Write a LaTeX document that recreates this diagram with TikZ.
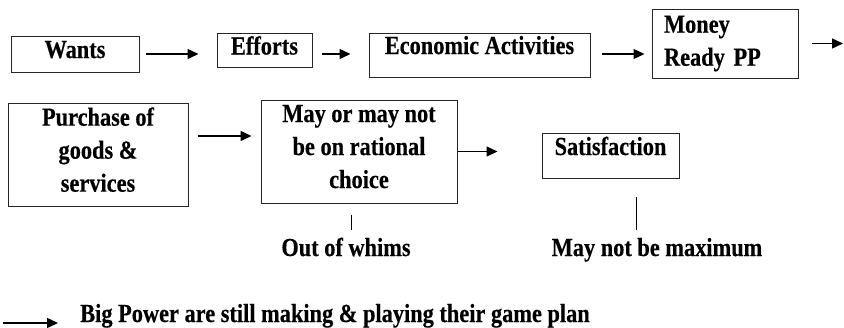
\documentclass[tikz,border=0pt]{standalone}
\usepackage{fontspec}
\newfontfamily\boxfont[FakeStretch=0.86,FakeBold=0.4]{Liberation Serif}
\usetikzlibrary{arrows.meta}
\tikzset{
  box/.style={draw=black!85, line width=1pt, inner sep=0pt, align=center,
    font=\boxfont\bfseries\fontsize{26}{33}\selectfont},
  lbl/.style={inner sep=0pt, text height=17pt, text depth=6pt,
    font=\boxfont\bfseries\fontsize{26}{33}\selectfont},
  arr/.style={line width=1.3pt, -{Triangle[length=11pt,width=10pt]}},
  tick/.style={line width=0.9pt}
}
\newcommand{\lowdown}{\rule[-10pt]{0pt}{0pt}}
\begin{document}
\begin{tikzpicture}[x=1pt,y=-1pt]
        \useasboundingbox (0,0) rectangle (844,327);
        %Hang tren
            \node[box, minimum width=128pt, minimum height=36pt, text height=17pt, text depth=9pt] (wants) at (75,54) {Wants};
            \node[box, minimum width=95pt, minimum height=34pt, text height=17pt, text depth=8pt] (efforts) at (264.5,50) {Efforts};
            \node[box, minimum width=221pt, minimum height=44pt, text height=17pt, text depth=19pt] (econ) at (479.5,55) {Economic Activities};
            \node[box, align=left, text width=122pt, inner xsep=12pt, minimum height=69pt] (money) at (725,43.5) {Money\\Ready PP};
            \coordinate (more) at (843,43.5);
        \draw[arr, shorten <=6pt, shorten >=18pt] (wants.east) -- (efforts.west |- wants.east);
        \draw[arr, shorten <=9pt, shorten >=18pt] (efforts.east |- wants.east) -- (econ.west |- wants.east);
        \draw[arr, shorten <=11pt, shorten >=7pt] (econ.east |- wants.east) -- (money.west |- wants.east);
        \draw[arr, shorten <=13pt] (money.east) -- (more);
        %Hang duoi
            \node[box, minimum width=180pt, minimum height=103pt] (purchase) at (98,154.5) {Purchase of\\goods \&\\services\lowdown};
            \node[box, minimum width=196pt, minimum height=103pt] (may) at (359,151.5) {May or may not\\be on rational\\choice\lowdown};
            \node[box, minimum width=137pt, minimum height=45pt, text height=17pt, text depth=18pt] (sat) at (610.5,155.5) {Satisfaction};
        \draw[arr, shorten <=9pt, shorten >=9pt] ([yshift=18.5pt]purchase.east) -- ([yshift=15.5pt]may.west);
        \draw[arr, shorten >=44pt] (may.east) -- (sat.west |- may.east);
        %Ghi chu
            \node[lbl] (whims) at (346,250.5) {Out of whims};
            \node[lbl] (maxi) at (657,250.5) {May not be maximum};
            \coordinate (wtop) at ([xshift=5pt]whims.north);
            \coordinate (mtop) at ([xshift=-21pt]maxi.north);
        \draw[tick, shorten <=11pt, shorten >=9pt] (may.south -| wtop) -- (wtop);
        \draw[tick, shorten <=18pt, shorten >=9pt] (sat.south -| mtop) -- (mtop);
        %Dong cuoi
            \node[lbl] (power) at (335,316.5) {Big Power are still making \& playing their game plan};
            \coordinate (bstart) at (3,323);
        \draw[arr, shorten >=22pt] (bstart) -- (power.west |- bstart);
\end{tikzpicture}
\end{document}
